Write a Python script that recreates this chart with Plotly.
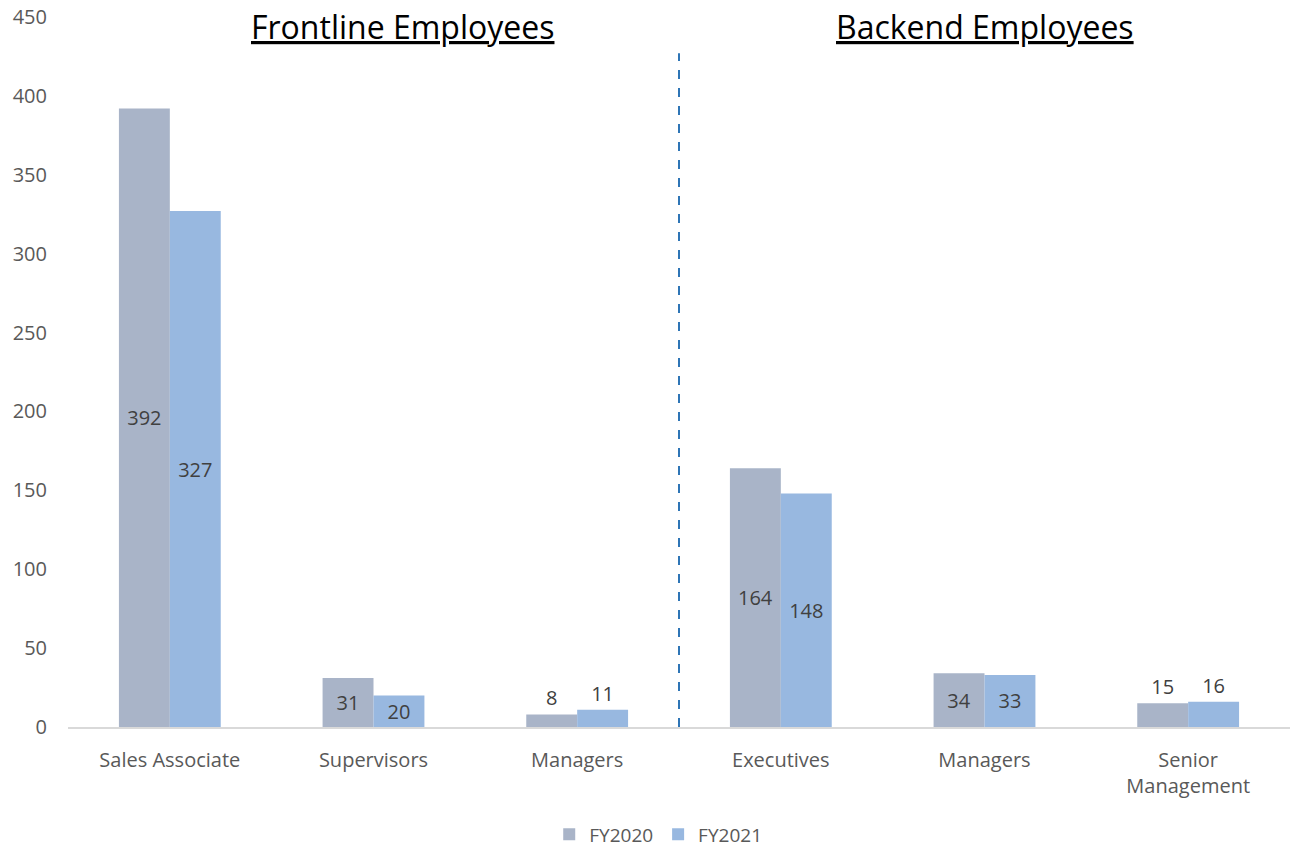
import plotly.graph_objects as go

# Headcount by role, FY2020 vs FY2021
roles = ["Sales Associate", "Supervisors", "Managers", "Executives", "Managers", "Senior<br>Management"]
fy2020 = [392, 31, 8, 164, 34, 15]
fy2021 = [327, 20, 11, 148, 33, 16]
series_names = ["FY2020", "FY2021"]
group_titles = ["Frontline Employees", "Backend Employees"]
y_ticks = [0, 50, 100, 150, 200, 250, 300, 350, 400, 450]

positions = list(range(len(roles)))
FONT = "Open Sans"
TEXT_DARK = "#404040"
TICK_GREY = "#595959"


def label_positions(values):
    # small bars carry their label above the bar
    return ["outside" if v < 20 else "inside" for v in values]


fig = go.Figure()
for name, vals, color in [
    (series_names[0], fy2020, "#A9B4C8"),
    (series_names[1], fy2021, "#98B8E0"),
]:
    fig.add_trace(go.Bar(
        x=positions,
        y=vals,
        name=name,
        marker=dict(color=color, line=dict(width=0)),
        text=[str(v) for v in vals],
        textposition=label_positions(vals),
        insidetextanchor="middle",
        textangle=0,
        constraintext="none",
        cliponaxis=False,
        textfont=dict(family=FONT, size=20, color=TEXT_DARK),
    ))

# divider between the two employee groups
fig.add_shape(
    type="line", xref="x", yref="y",
    x0=2.5, x1=2.5, y0=0, y1=427,
    line=dict(color="#2E75B6", width=2, dash="dash"),
)

for title, xc in zip(group_titles, [1.14, 4.0]):
    fig.add_annotation(
        x=xc, y=444, xref="x", yref="y",
        text=f"<u>{title}</u>", showarrow=False,
        xanchor="center", yanchor="middle",
        font=dict(family=FONT, size=32, color="#000000"),
    )

fig.update_layout(
    width=1290, height=848,
    margin=dict(l=68, r=0, t=17, b=121, autoexpand=False),
    paper_bgcolor="white", plot_bgcolor="white",
    barmode="group", bargap=0.5, bargroupgap=0,
    showlegend=True,
    legend=dict(
        orientation="h", x=0.483, y=0.016,
        xref="paper", yref="container",
        xanchor="center", yanchor="middle",
        font=dict(family=FONT, size=19, color=TICK_GREY),
        itemwidth=30,
    ),
    xaxis=dict(
        range=[-0.5, 5.5], automargin=False,
        tickmode="array", tickvals=positions, ticktext=roles,
        showgrid=False, zeroline=False,
        showline=True, linecolor="#D9D9D9", linewidth=1.5,
        ticks="", ticklabelstandoff=14,
        tickfont=dict(family=FONT, size=20, color=TICK_GREY),
    ),
    yaxis=dict(
        range=[0, 450], automargin=False,
        tickmode="array", tickvals=y_ticks,
        showgrid=False, zeroline=False, showline=False,
        ticks="", ticklabelstandoff=20,
        tickfont=dict(family=FONT, size=20, color=TICK_GREY),
    ),
)

fig.write_html("out.html")
